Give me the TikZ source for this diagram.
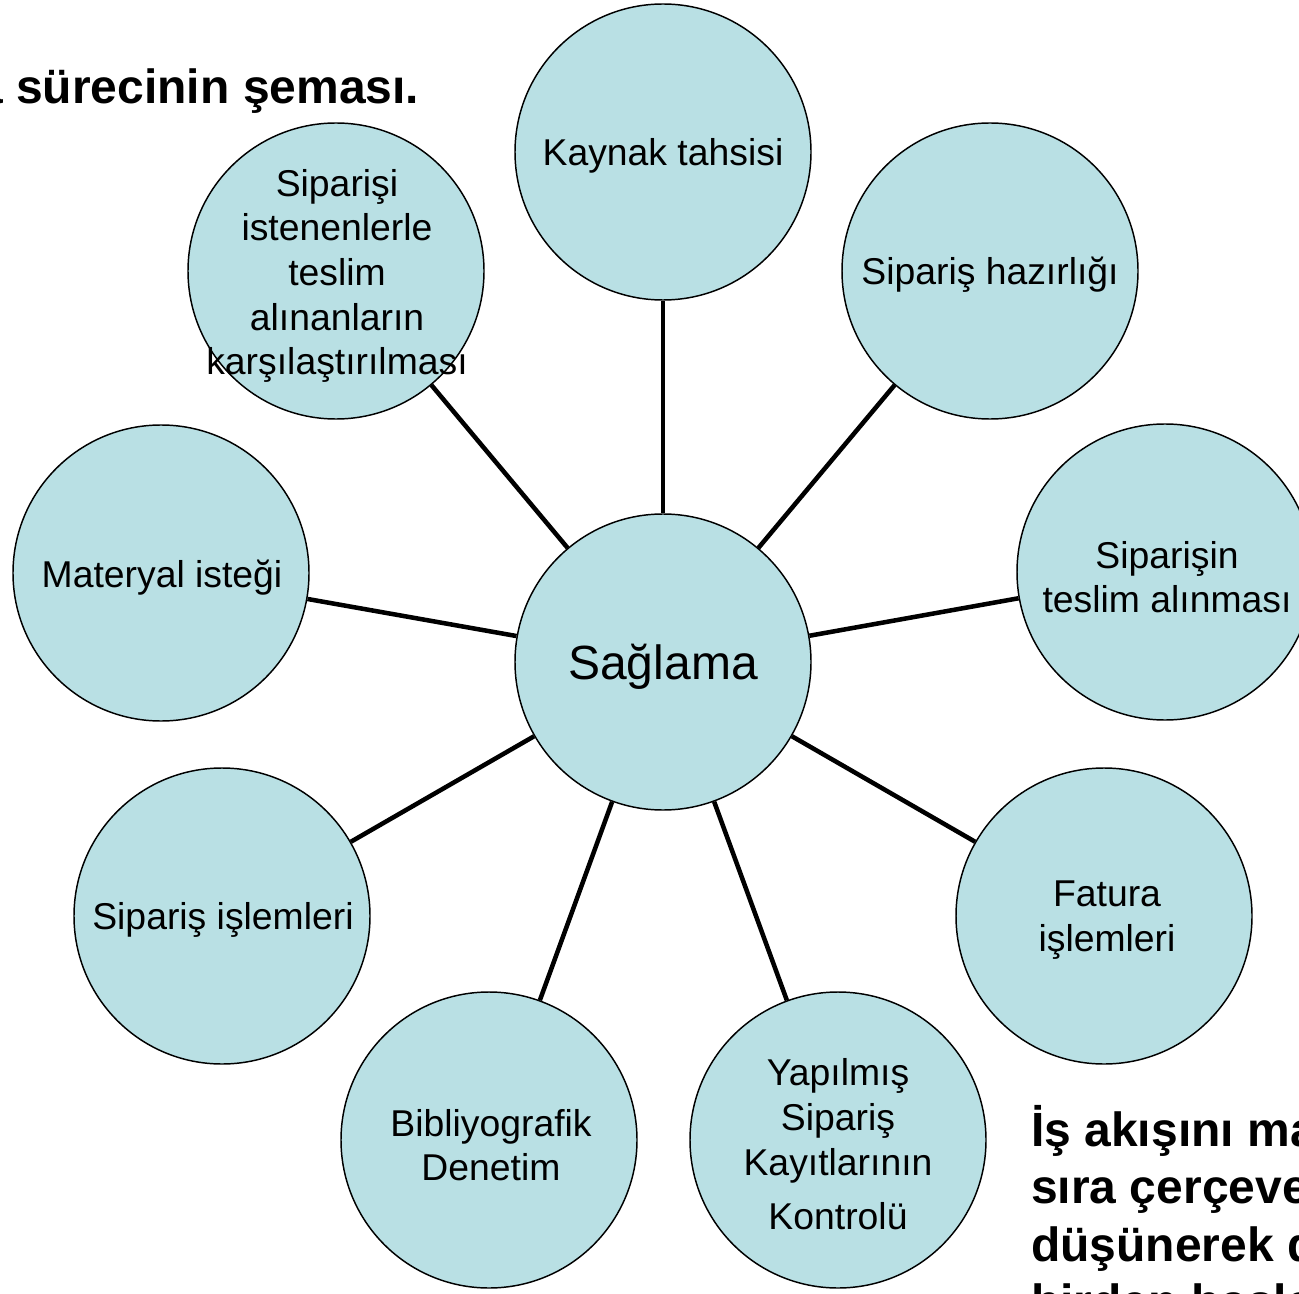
\documentclass[tikz,border=0pt]{standalone}
\usepackage{fontspec}
\setmainfont{Liberation Sans}
\definecolor{bubblefill}{RGB}{185,224,228}
\begin{document}
\begin{tikzpicture}[x=0.75pt,y=-0.75pt,
  bubble/.style={circle,draw=black,line width=1.1pt,fill=bubblefill,minimum size=222pt,inner sep=0pt},
  txt/.style={align=center,font=\fontsize{28}{33.5}\selectfont,inner sep=0pt},
  link/.style={line width=3.4pt,black},
  bigbold/.style={font=\fontsize{36}{43}\selectfont\bfseries,inner sep=0pt}]
\useasboundingbox (0,0) rectangle (1299,1294);
\clip (0,0) rectangle (1299,1294);
% circles
\node[bubble] (c) at (663,662) {};
\node[bubble] (n1) at (663,152) {};
\node[bubble] (n2) at (990,271) {};
\node[bubble] (n3) at (1165,572) {};
\node[bubble] (n4) at (1104,916) {};
\node[bubble] (n5) at (838,1140) {};
\node[bubble] (n6) at (489,1140) {};
\node[bubble] (n7) at (222,916) {};
\node[bubble] (n8) at (161,573) {};
\node[bubble] (n9) at (336,271) {};
% connectors
\foreach \n in {n1,n2,n3,n4,n5,n6,n7,n8,n9}
  \draw[link] (c) -- (\n);
% texts
\node[txt,font=\fontsize{36}{43}\selectfont] (tc) at (663,667) {Sağlama};
\node[txt] (t1) at (663,156) {Kaynak tahsisi};
\node[txt] (t2) at (990,275) {Sipariş hazırlığı};
\node[txt] (t3) at (1167,577) {Siparişin\\teslim alınması};
\node[txt] (t4) at (1107,920) {Fatura\\işlemleri};
\node[txt] (t5) at (838,1144) {Yapılmış\\Sipariş\\Kayıtlarının\\[7pt]Kontrolü};
\node[txt] (t6) at (491,1145) {Bibliyografik\\Denetim};
\node[txt] (t7) at (223,920) {Sipariş işlemleri};
\node[txt] (t8) at (162,578) {Materyal isteği};
\node[txt] (t9) at (337,276) {Siparişi\\istenenlerle\\teslim\\alınanların\\karşılaştırılması};
% title and side text
\node[bigbold,anchor=base west] (title) at (-24,104) {a sürecinin şeması.};
\node[bigbold,anchor=base west] (s1) at (1031,1146) {İş akışını ma};
\node[bigbold,anchor=base west] (s2) at (1031,1203) {sıra çerçeve};
\node[bigbold,anchor=base west] (s3) at (1031,1261) {düşünerek d};
\node[bigbold,anchor=base west] (s4) at (1031,1318) {birden başla};
\end{tikzpicture}
\end{document}
